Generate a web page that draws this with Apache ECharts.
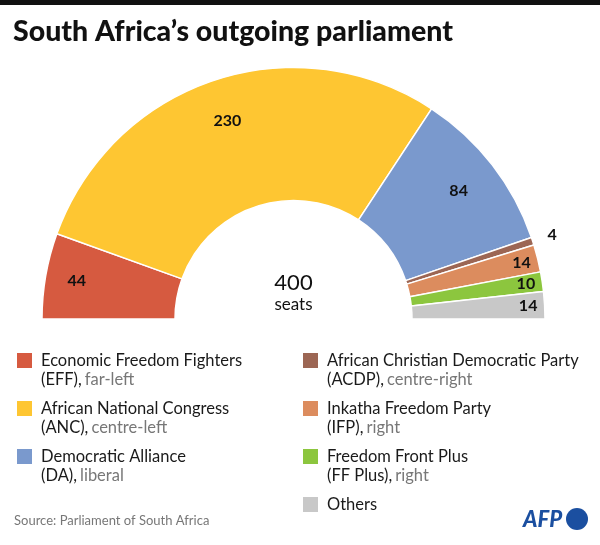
<!DOCTYPE html>
<html>
<head>
<meta charset="utf-8">
<script src="https://cdn.jsdelivr.net/npm/echarts@6/dist/echarts.min.js"></script>
<style>
  html, body { margin: 0; padding: 0; background: #fff; }
  #chart { width: 600px; height: 545px; }
</style>
</head>
<body>
<div id="chart"></div>
<script>
const parties = ['Economic Freedom Fighters', 'African National Congress', 'Democratic Alliance',
  'African Christian Democratic Party', 'Inkatha Freedom Party', 'Freedom Front Plus', 'Others'];
const abbrevs = ['(EFF),', '(ANC),', '(DA),', '(ACDP),', '(IFP),', '(FF Plus),', ''];
const leanings = ['far-left', 'centre-left', 'liberal', 'centre-right', 'right', 'right', ''];
const seats = [44, 230, 84, 4, 14, 10, 14];
const totalSeats = 400;
const colors = ['#D65A40', '#FEC632', '#7A99CD', '#9C6654', '#DC8C5E', '#8CC63E', '#C8C8C8'];
const leftLegend = parties.slice(0, 3);
const rightLegend = parties.slice(3);

const FONT = 'Lato';
const CX = 293.5, CY = 319;

const chart = echarts.init(document.getElementById('chart'));

function legendFormatter(name) {
  const i = parties.indexOf(name);
  if (!abbrevs[i]) return '{a|' + name + '}\n{b| }';
  return '{a|' + name + '}\n{a|' + abbrevs[i] + '} {b|' + leanings[i] + '}';
}
const legendText = {
  fontFamily: FONT,
  padding: [19, 0, 0, 3],
  rich: {
    a: { fontFamily: FONT, fontSize: 16.5, color: '#1a1a1a', lineHeight: 19 },
    b: { fontFamily: FONT, fontSize: 16.5, color: '#777777', lineHeight: 19 }
  }
};
function makeLegend(data, left) {
  return {
    data: data, left: left, top: 351, orient: 'vertical', padding: 0,
    icon: 'rect', itemWidth: 17, itemHeight: 17, itemGap: 11,
    selectedMode: false, formatter: legendFormatter, textStyle: legendText
  };
}

function labelSeries(r0, r1, showFn) {
  return {
    type: 'pie', center: [CX, CY], radius: [r0, r1], startAngle: 180, endAngle: 0,
    silent: true, animation: false, avoidLabelOverlap: false,
    labelLine: { show: false }, emphasis: { disabled: true },
    data: parties.map((p, i) => ({
      name: p, value: seats[i],
      itemStyle: { color: 'rgba(0,0,0,0)', borderWidth: 0 },
      label: { show: showFn(seats[i], i) }
    })),
    label: {
      position: 'inside', formatter: '{c}', color: '#111',
      fontFamily: FONT, fontWeight: 'bold', fontSize: 16
    }
  };
}

chart.setOption({
  animation: false,
  color: colors,
  title: {
    text: 'South Africa\u2019s outgoing parliament',
    left: 13, top: 17, padding: 0,
    textStyle: { fontFamily: FONT, fontWeight: 900, fontSize: 28.5, color: '#111' }
  },
  legend: [makeLegend(leftLegend, 15), makeLegend(rightLegend, 301)],
  graphic: [
    { type: 'rect', left: 0, top: 0, shape: { width: 600, height: 5 }, style: { fill: '#111' } },
    { type: 'text', x: CX, y: 283, style: { text: String(totalSeats), fontFamily: FONT, fontSize: 22, fill: '#111', align: 'center', verticalAlign: 'middle' } },
    { type: 'text', x: CX, y: 305, style: { text: 'seats', fontFamily: FONT, fontSize: 17, fill: '#111', align: 'center', verticalAlign: 'middle' } },
    { type: 'text', x: 14, y: 521, style: { text: 'Source: Parliament of South Africa', fontFamily: FONT, fontSize: 13, fill: '#777', verticalAlign: 'middle' } },
    { type: 'text', x: 523, y: 520, style: { text: 'AFP', fontFamily: FONT, fontSize: 22, fontWeight: 900, fontStyle: 'italic', fill: '#1B4FA0', verticalAlign: 'middle' } },
    { type: 'circle', shape: { cx: 577, cy: 519, r: 11 }, style: { fill: '#1B4FA0' } }
  ],
  series: [
    {
      type: 'pie', center: [CX, CY], radius: [118.5, 251.5], startAngle: 180, endAngle: 0,
      silent: true, avoidLabelOverlap: false,
      label: { show: false }, labelLine: { show: false }, emphasis: { disabled: true },
      itemStyle: { borderColor: '#fff', borderWidth: 1.5 },
      data: parties.map((p, i) => ({ name: p, value: seats[i] }))
    },
    labelSeries(178, 256, v => v >= 40 && v < 60),
    labelSeries(166, 246, v => v >= 60),
    labelSeries(214, 250, v => v < 40 && v >= 5),
    labelSeries(252, 286, v => v < 5)
  ]
});
</script>
</body>
</html>
